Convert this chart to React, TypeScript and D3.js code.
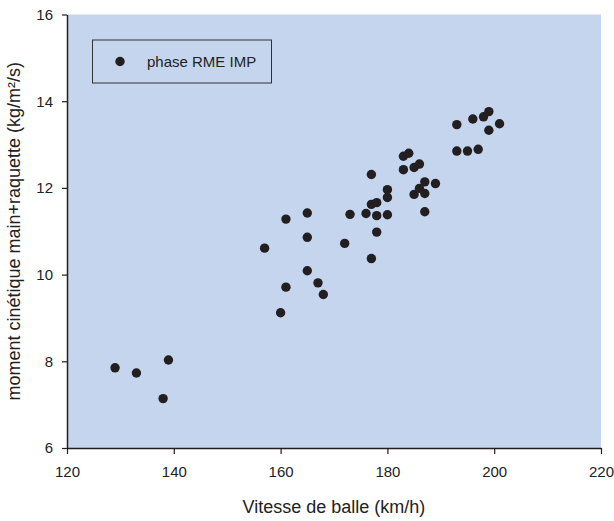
import React, { useEffect, useRef } from 'react';
import * as d3 from 'd3';

// ball speed (km/h) and hand+racket angular momentum
const speed = [129, 133, 139, 138, 157, 161, 161, 160, 165, 165, 165, 167, 168, 172, 173, 176, 177, 177, 177, 178, 178, 178, 180, 180, 180, 183, 185, 186, 183, 184, 187, 189, 185, 186, 187, 187, 193, 196, 198, 199, 201, 199, 193, 195, 197];
const moment = [7.85, 7.73, 8.03, 7.14, 10.61, 11.28, 9.71, 9.12, 11.42, 10.86, 10.09, 9.81, 9.54, 10.72, 11.39, 11.41, 10.37, 12.31, 11.62, 11.66, 11.36, 10.98, 11.96, 11.78, 11.38, 12.42, 12.47, 12.55, 12.73, 12.8, 12.14, 12.1, 11.85, 11.99, 11.87, 11.45, 13.46, 13.59, 13.64, 13.76, 13.48, 13.33, 12.85, 12.85, 12.89];
const xTicks = [120, 140, 160, 180, 200, 220];
const yTicks = [6, 8, 10, 12, 14, 16];
const seriesName = 'phase RME IMP';

const App = () => {
  const ref = useRef<SVGSVGElement>(null);

  useEffect(() => {
    const width = 614;
    const height = 521;
    const marginLeft = 67;
    const marginRight = 13;
    const marginTop = 14.5;
    const marginBottom = 73;
    const font = 'Arial, "Liberation Sans", sans-serif';
    const ink = '#231f20';

    const svg = d3.select(ref.current);
    svg.selectAll('*').remove();

    const x = d3.scaleLinear().domain([120, 220]).range([marginLeft, width - marginRight]);
    const y = d3.scaleLinear().domain([6, 16]).range([height - marginBottom, marginTop]);

    svg.append('rect')
      .attr('x', x(120)).attr('y', y(16))
      .attr('width', x(220) - x(120)).attr('height', y(6) - y(16))
      .attr('fill', '#c5d5ee');

    const xAxis = svg.append('g')
      .attr('transform', `translate(0,${y(6)})`)
      .call(d3.axisBottom(x).tickValues(xTicks).tickSize(6).tickSizeOuter(0).tickPadding(12));
    const yAxis = svg.append('g')
      .attr('transform', `translate(${x(120)},0)`)
      .call(d3.axisLeft(y).tickValues(yTicks).tickSize(5).tickSizeOuter(0).tickPadding(9));

    [xAxis, yAxis].forEach(g => {
      g.select('.domain').attr('stroke', ink).attr('stroke-width', 1.5);
      g.selectAll('.tick line').attr('stroke', ink).attr('stroke-width', 1.2);
      g.selectAll('.tick text')
        .attr('fill', '#222').style('font-family', font).style('font-size', '15px');
    });

    svg.append('g')
      .selectAll('circle')
      .data(speed.map((s, i) => [s, moment[i]]))
      .join('circle')
        .attr('cx', d => x(d[0]))
        .attr('cy', d => y(d[1]))
        .attr('r', 4.7)
        .attr('fill', ink);

    // legend
    const legend = svg.append('g');
    legend.append('rect')
      .attr('x', 92.5).attr('y', 40)
      .attr('width', 179).attr('height', 43)
      .attr('fill', 'none').attr('stroke', '#333').attr('stroke-width', 1);
    legend.append('circle').attr('cx', 120).attr('cy', 61.5).attr('r', 4.7).attr('fill', ink);
    legend.append('text')
      .attr('x', 147).attr('y', 67)
      .attr('fill', '#222')
      .style('font-family', font).style('font-size', '15px')
      .text(seriesName);

    svg.append('text')
      .attr('x', (x(120) + x(220)) / 2).attr('y', 513)
      .attr('text-anchor', 'middle')
      .attr('fill', '#222')
      .style('font-family', font).style('font-size', '18px')
      .text('Vitesse de balle (km/h)');

    svg.append('text')
      .attr('transform', `translate(20,${(y(6) + y(16)) / 2}) rotate(-90)`)
      .attr('text-anchor', 'middle')
      .attr('fill', '#222')
      .style('font-family', font).style('font-size', '18px')
      .text('moment cinétique main+raquette (kg/m²/s)');
  }, []);

  return (
    <svg ref={ref} width={614} height={521}
      style={{ position: 'absolute', left: 0, top: 0, background: '#fff' }} />
  );
};

export default App;
